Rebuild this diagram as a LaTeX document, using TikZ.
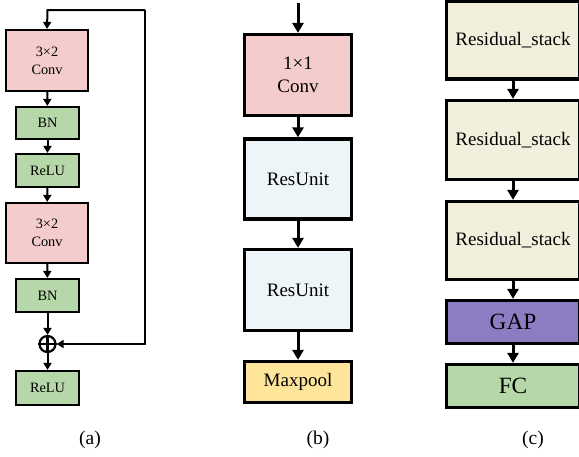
\documentclass[tikz,border=0pt]{standalone}
\usepackage{fontspec}
\setmainfont{Liberation Serif}
\usetikzlibrary{arrows.meta}
\definecolor{convpink}{HTML}{F4CCCC}
\definecolor{bngreen}{HTML}{B6D7A8}
\definecolor{resblue}{HTML}{EEF5F9}
\definecolor{poolyellow}{HTML}{FFE599}
\definecolor{stackbeige}{HTML}{F3EFDD}
\definecolor{gappurple}{HTML}{8E7CC3}
\tikzset{
  boxa/.style={draw=black, line width=2.2pt, inner sep=0pt, align=center,
    font=\fontsize{14.3}{18}\selectfont},
  boxb/.style={draw=black, line width=3.2pt, inner sep=0pt, align=center,
    font=\fontsize{19}{23}\selectfont},
  arra/.style={line width=2pt, -{Triangle[length=7pt,width=8pt]}},
  arrb/.style={line width=3pt, -{Triangle[length=10pt,width=11pt]}},
  sublabel/.style={font=\fontsize{19.5}{22}\selectfont, inner sep=0pt},
}
\begin{document}
\begin{tikzpicture}[x=1pt,y=-1pt]
\useasboundingbox (0,0) rectangle (579,456);
\begin{scope}
\clip (0,0) rectangle (579,456);
% ---------- panel (a)
\node[boxa, fill=convpink, minimum width=82pt, minimum height=61pt] (c1) at (47,60.5) {3×2\\Conv};
\node[boxa, fill=bngreen, minimum width=63pt, minimum height=32pt] (bn1) at (47.5,123) {BN};
\node[boxa, fill=bngreen, minimum width=63pt, minimum height=33pt] (r1) at (47.5,170.5) {ReLU};
\node[boxa, fill=convpink, minimum width=82pt, minimum height=60pt] (c2) at (47,233) {3×2\\Conv};
\node[boxa, fill=bngreen, minimum width=63pt, minimum height=33pt] (bn2) at (47.5,295.5) {BN};
\node[draw=black, line width=2.2pt, circle, minimum size=16pt, inner sep=0pt] (plus) at (47.5,344) {};
\draw[line width=2.2pt] (plus.north) -- (plus.south) (plus.west) -- (plus.east);
\node[boxa, fill=bngreen, minimum width=63pt, minimum height=34pt] (r2) at (47.5,388) {ReLU};
\coordinate (tl) at (47.5,10);
\coordinate (tr) at (145,10);
\coordinate (br) at (145,344);
\draw[arra] (tr) -- (tl) -- (c1.north);
\draw[arra] (tr) -- (br) -- (plus.east);
\draw[arra] (c1) -- (bn1);
\draw[arra] (bn1) -- (r1);
\draw[arra] (r1) -- (c2);
\draw[arra] (c2) -- (bn2);
\draw[arra] (bn2) -- (plus);
\draw[arra] (plus) -- (r2);
\node[sublabel] (la) at (90,440) {(a)};
% ---------- panel (b)
\node[boxb, fill=convpink, minimum width=107pt, minimum height=81pt] (cb) at (298,75) {1×1\\Conv};
\node[boxb, fill=resblue, minimum width=107pt, minimum height=80pt] (ru1) at (298,179) {ResUnit};
\node[boxb, fill=resblue, minimum width=107pt, minimum height=81pt] (ru2) at (298,290) {ResUnit};
\node[boxb, fill=poolyellow, minimum width=107pt, minimum height=41pt] (mp) at (298,382) {Maxpool};
\coordinate (inb) at (298,3);
\draw[arrb] (inb) -- (cb);
\draw[arrb] (cb) -- (ru1);
\draw[arrb] (ru1) -- (ru2);
\draw[arrb] (ru2) -- (mp);
\node[sublabel] (lb) at (318,440) {(b)};
% ---------- panel (c)
\node[boxb, fill=stackbeige, minimum width=133pt, minimum height=78pt] (s1) at (513,40) {Residual\_stack};
\node[boxb, fill=stackbeige, minimum width=133pt, minimum height=79pt] (s2) at (513,140) {Residual\_stack};
\node[boxb, fill=stackbeige, minimum width=133pt, minimum height=78pt] (s3) at (513,240.5) {Residual\_stack};
\node[boxb, fill=gappurple, minimum width=133pt, minimum height=43pt, font=\fontsize{23.3}{26}\selectfont] (gap) at (513,322) {GAP};
\node[boxb, fill=bngreen, minimum width=133pt, minimum height=43pt, font=\fontsize{23.3}{26}\selectfont] (fc) at (513,386) {FC};
\draw[arrb] (s1) -- (s2);
\draw[arrb] (s2) -- (s3);
\draw[arrb] (s3) -- (gap);
\draw[arrb] (gap) -- (fc);
\node[sublabel] (lc) at (533,440) {(c)};
\end{scope}
\end{tikzpicture}
\end{document}
